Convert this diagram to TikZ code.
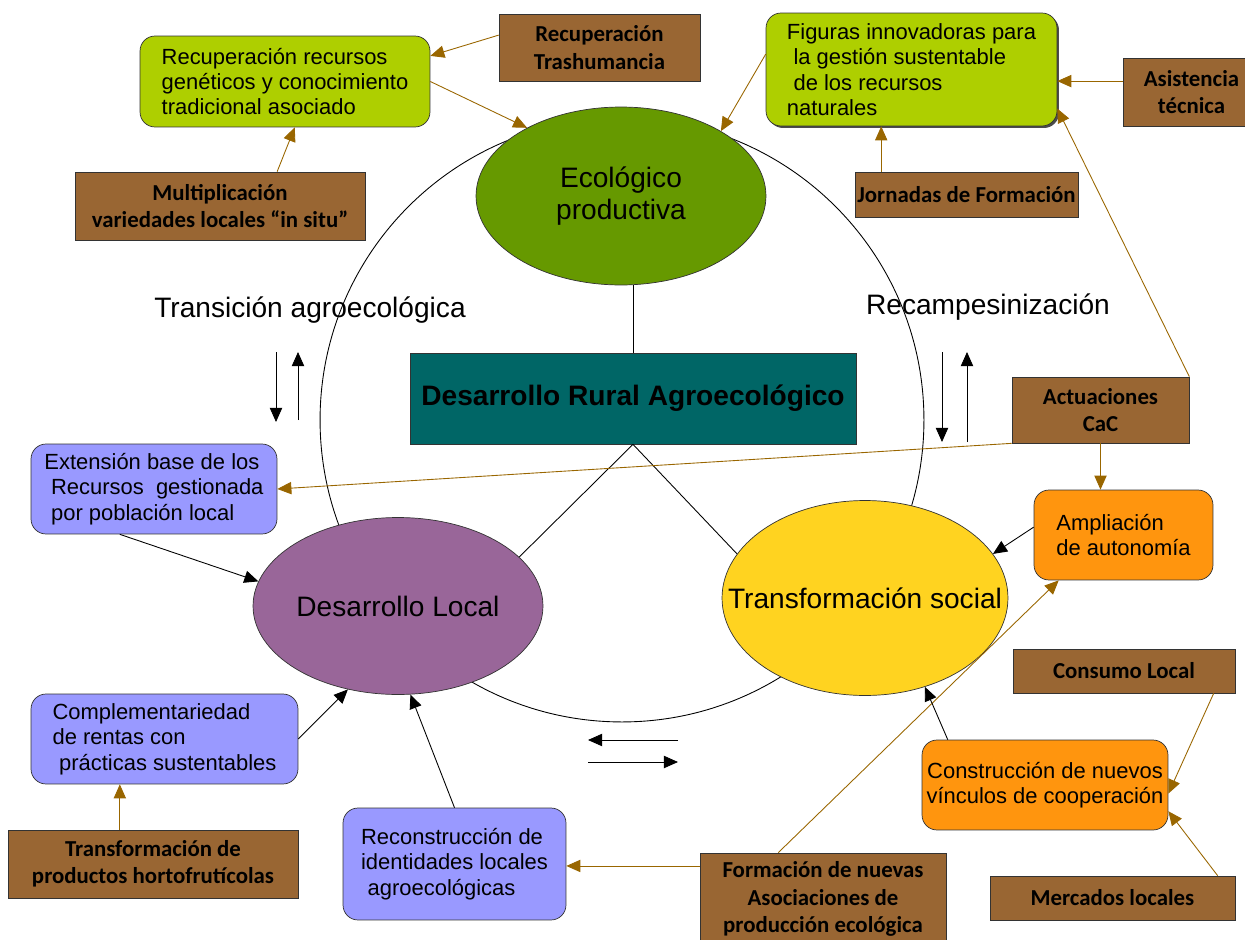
\documentclass[tikz,border=0pt]{standalone}
\usepackage{fontspec}
\setmainfont{Liberation Sans}
\newfontfamily\calib{Carlito}
\usetikzlibrary{shapes.geometric,arrows.meta,shadows}
\definecolor{ecogreen}{HTML}{669900}
\definecolor{locpurple}{HTML}{996699}
\definecolor{socyellow}{HTML}{FFD320}
\definecolor{limebox}{HTML}{AECF00}
\definecolor{bluebox}{HTML}{9999FF}
\definecolor{orangebox}{HTML}{FF950E}
\definecolor{brownbox}{HTML}{996633}
\definecolor{tealbox}{HTML}{006666}
\definecolor{brownline}{HTML}{996600}
\tikzset{
  eje/.style={ellipse, draw=black!80, inner sep=0pt},
  ejetexto/.style={font=\fontsize{16}{18}\selectfont, align=center},
  accion/.style={rectangle, draw=black!80, fill=brownbox, inner sep=0pt, align=center,
    font=\calib\bfseries\fontsize{13}{15.5}\selectfont},
  meta/.style={rectangle, rounded corners=0.3cm, draw=black!80, inner sep=0pt,
    align=left, font=\fontsize{12.5}{14.5}\selectfont},
  flecha/.style={draw=brownline, line width=0.5pt, -{Triangle[length=8pt,width=7pt]}},
  efecto/.style={draw=black, line width=0.5pt, -{Triangle[length=8pt,width=7pt]}},
  enlace/.style={draw=black, line width=0.5pt}
}
\begin{document}
\begin{tikzpicture}[x=0.02cm, y=-0.02cm]
\useasboundingbox (0,0) rectangle (1245,940);
\draw[enlace] (622,420) circle [radius=6.04cm];

\node[eje, fill=ecogreen, minimum width=5.8cm, minimum height=3.56cm,
  label={[ejetexto]center:Ecológico\\productiva}] (eco) at (621,196) {};
\node[eje, fill=locpurple, minimum width=5.8cm, minimum height=3.54cm,
  label={[ejetexto]center:Desarrollo Local}] (loc) at (398,606) {};
\node[eje, fill=socyellow, minimum width=5.72cm, minimum height=3.9cm,
  label={[ejetexto]center:Transformación social}] (soc) at (865,598) {};
\node[rectangle, draw=black!80, fill=tealbox, minimum width=8.92cm, minimum height=1.82cm,
  font=\bfseries\fontsize{16}{19}\selectfont] (dra) at (633,398.5) {Desarrollo Rural Agroecológico};

\node[meta, fill=limebox, minimum width=5.8cm, minimum height=1.82cm] (rec) at (285,81.5)
  {Recuperación recursos\\genéticos y conocimiento\\tradicional asociado};
\node[meta, fill=limebox, minimum width=5.82cm, minimum height=2.26cm,
  drop shadow={shadow xshift=0.04cm, shadow yshift=-0.04cm, fill=black!70, opacity=1}] (fig) at (911.5,69.5)
  {Figuras innovadoras para\\\hspace*{.3em}la gestión sustentable\\\hspace*{.3em}de los recursos\\naturales};
\node[meta, fill=bluebox, minimum width=4.92cm, minimum height=1.8cm] (ext) at (154,489)
  {Extensión base de los\\\hspace*{.3em}Recursos\ \ gestionada\\\hspace*{.3em}por población local};
\node[meta, fill=bluebox, minimum width=5.34cm, minimum height=1.8cm] (com) at (164.5,739)
  {Complementariedad\\de rentas con\\\hspace*{.3em}prácticas sustentables};
\node[meta, fill=bluebox, minimum width=4.46cm, minimum height=2.24cm] (ide) at (454.5,864)
  {Reconstrucción de\\identidades locales\\\hspace*{.3em}agroecológicas};
\node[meta, fill=orangebox, minimum width=3.58cm, minimum height=1.8cm] (amp) at (1123.5,535)
  {Ampliación\\de autonomía};
\node[meta, fill=orangebox, align=center, minimum width=4.92cm, minimum height=1.8cm] (con) at (1045,785)
  {Construcción de nuevos\\vínculos de cooperación};

\node[accion, minimum width=4.02cm, minimum height=1.34cm] (tra) at (599.5,47.5) {Recuperación\\Trashumancia};
\node[accion, minimum width=5.8cm, minimum height=1.36cm] (mul) at (220,206) {Multiplicación\\variedades locales “in situ”};
\node[accion, minimum width=4.46cm, minimum height=0.9cm] (jor) at (966.5,194.5) {Jornadas de Formación};
\node[accion, minimum width=2.74cm, minimum height=1.36cm] (asi) at (1191.5,92) {Asistencia\\técnica};
\node[accion, minimum width=3.54cm, minimum height=1.32cm] (act) at (1100.5,410) {Actuaciones\\CaC};
\node[accion, minimum width=4.44cm, minimum height=0.88cm] (cons) at (1124,671) {Consumo Local};
\node[accion, minimum width=4.9cm, minimum height=0.88cm] (mer) at (1112.5,898) {Mercados locales};
\node[accion, minimum width=5.8cm, minimum height=1.36cm] (tpr) at (153,864) {Transformación de\\productos hortofrutícolas};
\node[accion, minimum width=4.92cm, minimum height=1.84cm] (fna) at (823,899) {Formación de nuevas\\Asociaciones de\\producción ecológica};

\node[font=\fontsize{16}{19}\selectfont] (tag) at (310,310) {Transición agroecológica};
\node[font=\fontsize{16}{19}\selectfont] (rcp) at (988,307) {Recampesinización};

\draw[enlace] (dra.north) -- (dra.north |- eco.south);
\draw[enlace] (dra.south) -- (loc.22);
\draw[enlace] (dra.south) -- (soc.161);

\draw[efecto] (276,352) -- (276,422);
\draw[efecto] (298,420) -- (298,352);
\draw[efecto] (942,352) -- (942,442);
\draw[efecto] (967,442) -- (967,352);
\draw[efecto] (678,740) -- (588,740);
\draw[efecto] (588,762) -- (678,762);

\draw[flecha] (tra.173) -- (rec.10);
\draw[flecha] (rec.east) -- (eco.144);
\draw[flecha] (mul.31) -- (rec.-78);
\draw[flecha] (fig.174) -- (eco.33);
\draw[flecha] (asi.171) -- (fig.east |- asi.171);
\draw[flecha] (jor.165) -- (jor.165 |- fig.south);
\draw[flecha] (act.north east) -- (fig.-15);
\draw[flecha] (act.south west) -- (ext.east);
\draw[flecha] (act.south) -- (act.south |- amp.north);
\draw[flecha] (fna.134) -- (amp.-145);
\draw[flecha] (fna.165) -- (ide.east |- fna.165);
\draw[flecha] (cons.-14) -- (con.-4);
\draw[flecha] (mer.12) -- (con.-12);
\draw[flecha] (tpr.134) -- (tpr.134 |- com.south);
\draw[efecto] (amp.175) -- (soc.19);
\draw[efecto] (con.155) -- (soc.-56);
\draw[efecto] (ext.-127) -- (loc.170);
\draw[efecto] (com.east) -- (loc.-121);
\draw[efecto] (ide.north) -- (loc.-82);
\end{tikzpicture}
\end{document}
